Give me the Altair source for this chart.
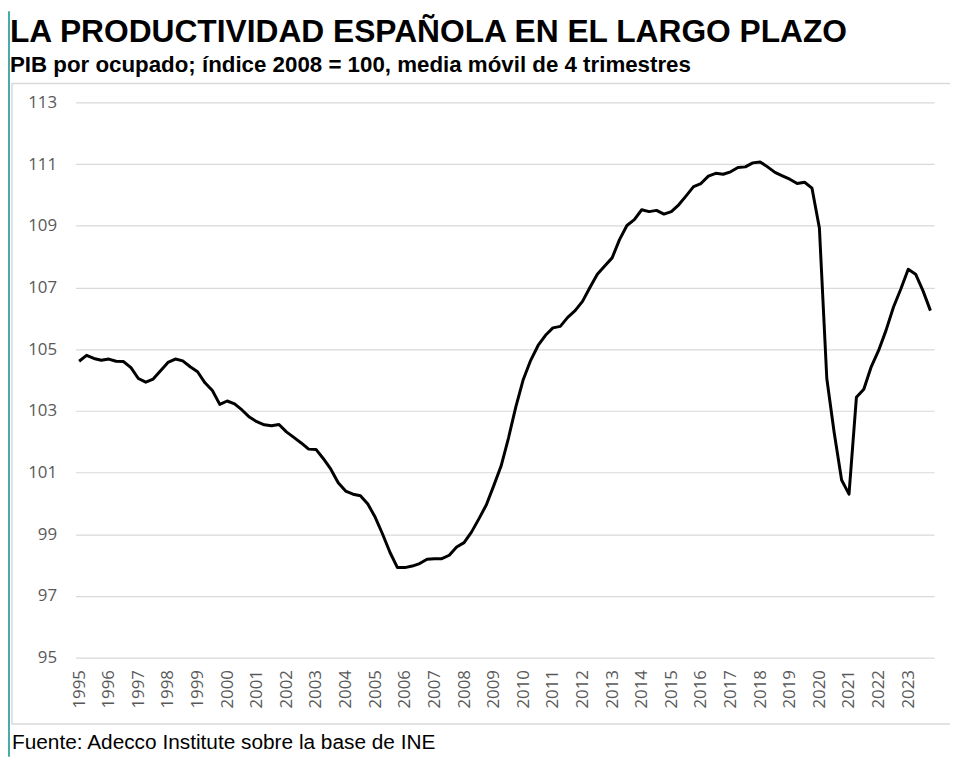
import altair as alt
import pandas as pd

TITLE = "LA PRODUCTIVIDAD ESPAÑOLA EN EL LARGO PLAZO"
SUBTITLE = "PIB por ocupado; índice 2008 = 100, media móvil de 4 trimestres"
FOOTER = "Fuente: Adecco Institute sobre la base de INE"

years = list(range(1995, 2024))
quarters = ["T1", "T2", "T3", "T4"]

values = [
    104.61, 104.80, 104.70, 104.64, 104.68, 104.61, 104.60, 104.40,
    104.05, 103.93, 104.03, 104.30, 104.57, 104.68, 104.62, 104.43,
    104.27, 103.91, 103.66, 103.21, 103.32, 103.23, 103.03, 102.80,
    102.65, 102.55, 102.52, 102.56, 102.32, 102.14, 101.96, 101.76,
    101.75, 101.45, 101.11, 100.67, 100.40, 100.30, 100.25, 99.98,
    99.55, 99.00, 98.41, 97.92, 97.92, 97.97, 98.05, 98.19,
    98.21, 98.21, 98.32, 98.59, 98.73, 99.07, 99.50, 99.95,
    100.57, 101.21, 102.12, 103.14, 104.02, 104.64, 105.12, 105.45,
    105.69, 105.74, 106.03, 106.25, 106.55, 107.00, 107.43, 107.70,
    107.96, 108.55, 109.01, 109.20, 109.52, 109.46, 109.50, 109.38,
    109.46, 109.68, 109.97, 110.27, 110.37, 110.61, 110.70, 110.67,
    110.75, 110.89, 110.91, 111.04, 111.07, 110.91, 110.73, 110.62,
    110.51, 110.37, 110.41, 110.22, 108.93, 104.05, 102.29, 100.76,
    100.30, 103.44, 103.70, 104.43, 104.96, 105.61, 106.36, 106.95,
    107.59, 107.43, 106.89, 106.25,
]

y_ticks = list(range(95, 114, 2))

periods = [f"{y}-{q}" for y in years for q in quarters]
df = pd.DataFrame({"periodo": periods, "valor": values})
year_ticks = [f"{y}-T1" for y in years]

W, H = 866, 560
AX_FONT = "Open Sans"
AX_COLOR = "#595959"

line = alt.Chart(df).mark_line(color="black", strokeWidth=3, strokeJoin="round").encode(
    x=alt.X(
        "periodo:O",
        sort=periods,
        scale=alt.Scale(type="point", padding=0.5),
        axis=alt.Axis(
            values=year_ticks,
            labelExpr="substring(datum.value, 0, 4)",
            labelAngle=-90,
            title=None,
            ticks=False,
            domain=False,
            grid=False,
            labelPadding=12,
            labelFont=AX_FONT,
            labelFontSize=17,
            labelColor=AX_COLOR,
        ),
    ),
    y=alt.Y(
        "valor:Q",
        scale=alt.Scale(domain=[95, 113], nice=False, zero=False),
        axis=alt.Axis(
            values=y_ticks,
            title=None,
            ticks=False,
            domain=False,
            grid=True,
            gridColor="#d9d9d9",
            gridWidth=1.2,
            labelPadding=19,
            labelFont=AX_FONT,
            labelFontSize=17,
            labelColor=AX_COLOR,
        ),
    ),
)

one = alt.Data(values=[{"k": 1}])

title = alt.Chart(one).mark_text(
    text=TITLE, align="left", baseline="alphabetic",
    font="Liberation Sans", fontWeight="bold", fontSize=32, color="black",
).encode(x=alt.value(-66), y=alt.value(-61))

subtitle = alt.Chart(one).mark_text(
    text=SUBTITLE, align="left", baseline="alphabetic",
    font="Liberation Sans", fontWeight="bold", fontSize=22.5, color="black",
).encode(x=alt.value(-66), y=alt.value(-31))

footer = alt.Chart(one).mark_text(
    text=FOOTER, align="left", baseline="alphabetic",
    font="Liberation Sans", fontSize=21, color="black",
).encode(x=alt.value(-64), y=alt.value(652))

box = alt.Chart(one).mark_rect(fill=None, stroke="#d9d9d9", strokeWidth=1.5).encode(
    x=alt.value(-64), x2=alt.value(900), y=alt.value(-19), y2=alt.value(627)
)

teal = alt.Chart(one).mark_rule(color="#4aa9a9", strokeWidth=2).encode(
    x=alt.value(-67), y=alt.value(-92), y2=alt.value(660)
)

chart = alt.layer(box, teal, line, title, subtitle, footer).properties(
    width=W,
    height=H,
    padding={"left": 68, "top": 92, "right": 16, "bottom": 100},
    autosize=alt.AutoSizeParams(type="none"),
    background="white",
).configure_view(stroke=None)

chart.save("out.html", embed_options={"renderer": "svg", "actions": False})
